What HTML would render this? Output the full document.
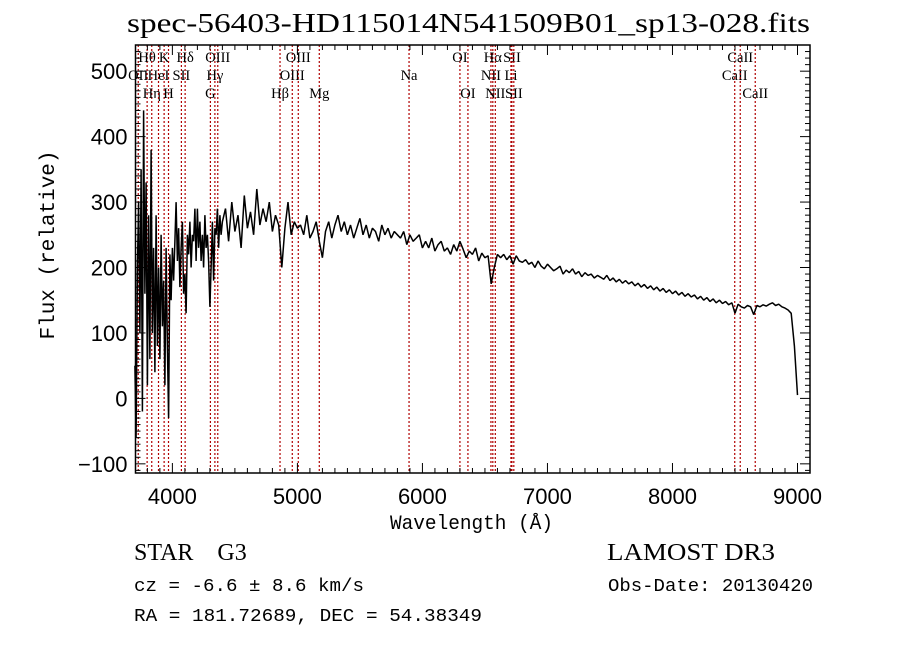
<!DOCTYPE html>
<html><head><meta charset="utf-8"><style>
body{margin:0;background:#fff;}
svg{display:block;}
</style></head><body>
<svg id="chart" width="900" height="649" xmlns="http://www.w3.org/2000/svg">
<rect x="0" y="0" width="900" height="649" fill="#fff"/>
<text x="127" y="32" textLength="683" lengthAdjust="spacingAndGlyphs" font-family="Liberation Serif, serif" font-size="27">spec-56403-HD115014N541509B01_sp13-028.fits</text>
<g id="lines"></g>
<g id="axes"></g>
<path id="spec" fill="none" stroke="#000" stroke-width="1.5" stroke-linejoin="bevel"/>
<text transform="translate(54,245) rotate(-90)" font-family="Liberation Mono, monospace" font-size="21" text-anchor="middle">Flux (relative)</text>
<text x="390" y="529" textLength="163" lengthAdjust="spacingAndGlyphs" font-family="Liberation Mono, monospace" font-size="20">Wavelength (Å)</text>
<text x="134" y="560" font-family="Liberation Serif, serif" font-size="24">STAR&#160;&#160;&#160;&#160;G3</text>
<text x="134" y="591" textLength="230" lengthAdjust="spacingAndGlyphs" font-family="Liberation Mono, monospace" font-size="18">cz = -6.6 ± 8.6 km/s</text>
<text x="134" y="621" textLength="348" lengthAdjust="spacingAndGlyphs" font-family="Liberation Mono, monospace" font-size="18">RA = 181.72689, DEC =  54.38349</text>
<text x="607" y="560" textLength="168" lengthAdjust="spacingAndGlyphs" font-family="Liberation Serif, serif" font-size="24">LAMOST DR3</text>
<text x="608" y="591" textLength="205" lengthAdjust="spacingAndGlyphs" font-family="Liberation Mono, monospace" font-size="18">Obs-Date: 20130420</text>
</svg>
<script>
const blueStart = 3700, blueStep = 10;
const blueFlux = [50,-60,200,300,100,350,-20,440,160,330,20,280,60,380,100,230,40,280,80,200,60,250,110,180,20,230,80,-30,220,150,230,180,240,300,210,260,170,230,270,160,190,130,250,220,270,200,250,240,290,210,290,230,270,210,250,200,280,230,250,210,140,200,270,180,260,250,290,230,280,250,270];
const redStart = 4425, redStep = 25;
const redFlux = [290,240,300,255,280,230,310,260, 285,250,320,265,290,270,300,255, 280,265,200,260,300,250,270,260, 265,250,280,245,255,270,240,215, 255,270,245,265,280,255,270,250, 265,245,260,275,250,265,245,260, 255,240,265,250,260,245,255,250, 245,255,235,250,240,245,250,230, 240,230,245,225,235,240,225,230, 220,235,225,240,228,215,225,220, 230,210,222,215,218,175,200,220, 215,220,212,218,205,218,210,208, 212,205,208,200,210,202,198,205, 200,195,198,202,190,196,192,198, 190,194,186,192,188,190,184,188, 185,182,188,180,184,178,182,176, 180,175,178,172,176,170,174,168, 172,166,170,164,168,162,166,160, 164,158,162,156,160,155,158,152, 156,150,154,148,152,146,150,145, 148,143,146,130,144,140,138,142, 140,128,142,140,143,141,144,146, 142,144,140,138,135,130,80,5];
const lineWaves = [3727,3798,3835,3889,3934,3969,4072,4102,4304,4340,4363,4861,4959,5007,5175,5893,6300,6364,6548,6563,6583,6708,6716,6731,8498,8542,8662];
const lineNames = ["OII","Hθ","Hη","HeI","K","H","SII","Hδ","G","Hγ","OIII","Hβ","OIII","OIII","Mg","Na","OI","OI","NII","Hα","NII","Li","SII","SII","CaII","CaII","CaII"];
const lineRows = [1,0,2,1,0,2,1,0,2,1,0,2,1,0,2,1,0,2,1,0,2,1,0,2,1,0,2];
const xTicks = [4000,5000,6000,7000,8000,9000];
const yTicks = [-100,0,100,200,300,400,500];

const L=135.5,R=810,T=45,B=473;
const X0=3705,X1=9100,Y0=-114,Y1=540;
const sx=w=>L+(w-X0)/(X1-X0)*(R-L);
const sy=f=>B-(f-Y0)/(Y1-Y0)*(B-T);
const NS='http://www.w3.org/2000/svg';
function mk(tag,attrs,parent){const e=document.createElementNS(NS,tag);for(const k in attrs)e.setAttribute(k,attrs[k]);parent.appendChild(e);return e;}

const lg=document.getElementById('lines');
lineWaves.forEach((w,i)=>{
  const x=sx(w);
  const ln=mk('line',{x1:x,x2:x,y1:T,y2:B,stroke:'#b00000','stroke-width':1.2,'stroke-dasharray':'2,2'},lg);
  
  
  const t=mk('text',{x:x,y:62+lineRows[i]*18,'font-family':'Liberation Serif, serif','font-size':14.5,'text-anchor':'middle'},lg);
  t.textContent=lineNames[i];
  
  
});

const ax=document.getElementById('axes');
const fr=mk('rect',{x:L,y:T,width:R-L,height:B-T,fill:'none',stroke:'#000','stroke-width':1.5},ax);


for(let w=3800;w<=9100;w+=100){
  const x=sx(w);const len=(w%1000===0)?10:5;
  mk('line',{x1:x,x2:x,y1:B,y2:B-len,stroke:'#000'},ax);
  mk('line',{x1:x,x2:x,y1:T,y2:T+len,stroke:'#000'},ax);
}
for(let f=-110;f<=530;f+=10){
  const y=sy(f);const len=(f%100===0)?10:5;
  mk('line',{x1:L,x2:L+len,y1:y,y2:y,stroke:'#000'},ax);
  mk('line',{x1:R,x2:R-len,y1:y,y2:y,stroke:'#000'},ax);
}
xTicks.forEach(v=>{
  const t=mk('text',{x:sx(v),y:B+31,'font-family':'Liberation Sans, sans-serif','font-size':22,'text-anchor':'middle'},ax);
  t.textContent=v;
  
  
});
yTicks.forEach(v=>{
  const t=mk('text',{x:L-8,y:sy(v)+8,'font-family':'Liberation Sans, sans-serif','font-size':22,'text-anchor':'end'},ax);
  t.textContent=v<0?'\u2212'+(-v):v;
  
  
});

let d='';
blueFlux.forEach((f,i)=>{d+=(i?'L':'M')+sx(blueStart+i*blueStep).toFixed(1)+','+sy(f).toFixed(1);});
redFlux.forEach((f,i)=>{d+='L'+sx(redStart+i*redStep).toFixed(1)+','+sy(f).toFixed(1);});
document.getElementById('spec').setAttribute('d',d);
</script>
</body></html>
